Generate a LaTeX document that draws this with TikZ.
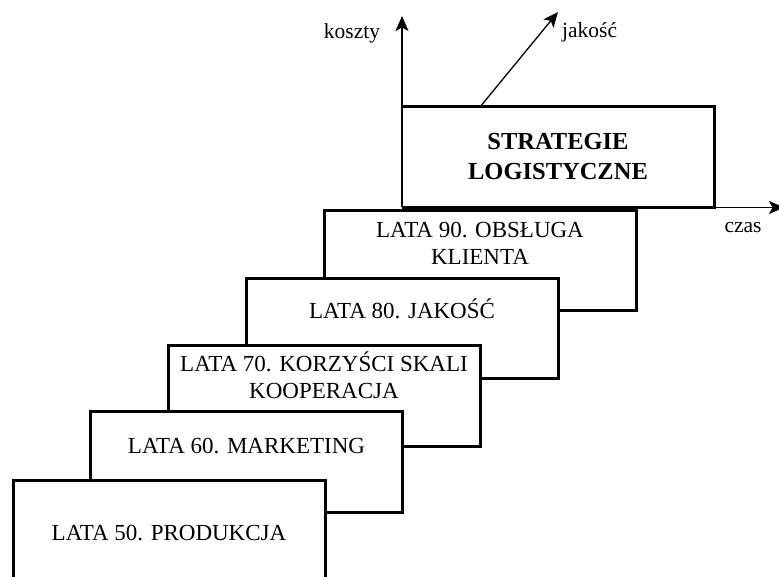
\documentclass[tikz,border=0pt]{standalone}
\usepackage{fontspec}
\setmainfont{Liberation Serif}
\usetikzlibrary{arrows.meta,calc}

\begin{document}
\begin{tikzpicture}[x=1pt,y=1pt,
  stage/.style={draw, line width=3pt, fill=white, minimum width=312pt,
    minimum height=100pt, inner sep=0pt, outer sep=0pt, anchor=north west},
  stagetext/.style={anchor=base, align=center, inner sep=0pt,
    font=\fontsize{23}{27}\selectfont},
  axis/.style={line width=1.3pt, -{Stealth[length=15pt,width=13pt,inset=3.5pt]}},
  axislabel/.style={font=\fontsize{21.5}{26}\selectfont, inner sep=0pt, anchor=base}
]
\useasboundingbox (0,0) rectangle (779,576);

% top step, open on the left where the cost axis runs
\node[minimum width=312pt, minimum height=100.5pt, inner sep=0pt, outer sep=0pt,
  fill=white, anchor=north west] (sb) at (402,469) {};
\draw[line width=3pt] (sb.north west) -- (sb.north east) -- (sb.south east) -- (sb.south west);
% multi-line texts sit on the baseline of their last line
\node[stagetext, font=\bfseries\fontsize{24.5}{30}\selectfont] (st) at (558,396)
  {STRATEGIE\\LOGISTYCZNE};

% axes
\coordinate (ktip) at (402,560);
\coordinate (jtip) at (558,564);
\coordinate (ctip) at (784,368.5);
\coordinate (jbase) at ($(sb.north west)!0.25!(sb.north east)$);
\draw[axis] (sb.south west) -- (ktip);
\draw[axis] (jbase) -- (jtip);
\draw[axis] (sb.south east) -- (ctip);

\node[axislabel] (lk) at (352,537) {koszty};
\node[axislabel, anchor=base west] (lj) at (562,538) {jakość};
\node[axislabel] (lc) at (743,343) {czas};

% the stairs, drawn from the top step down so each lower box lies in front
\node[stage] (s90) at (324,365) {};
\node[stagetext] (t90) at (480,311) {LATA 90. OBSŁUGA\\KLIENTA};
\node[stage] (s80) at (246,297) {};
\node[stagetext] (t80) at (402,257) {LATA 80. JAKOŚĆ};
\node[stage] (s70) at (168,230) {};
\node[stagetext] (t70) at (324,177) {LATA 70. KORZYŚCI SKALI\\KOOPERACJA};
\node[stage] (s60) at (90,164) {};
\node[stagetext] (t60) at (246.5,123) {LATA 60. MARKETING};
\node[stage] (s50) at (13,96) {};
\node[stagetext] (t50) at (169,36) {LATA 50. PRODUKCJA};
\end{tikzpicture}
\end{document}
